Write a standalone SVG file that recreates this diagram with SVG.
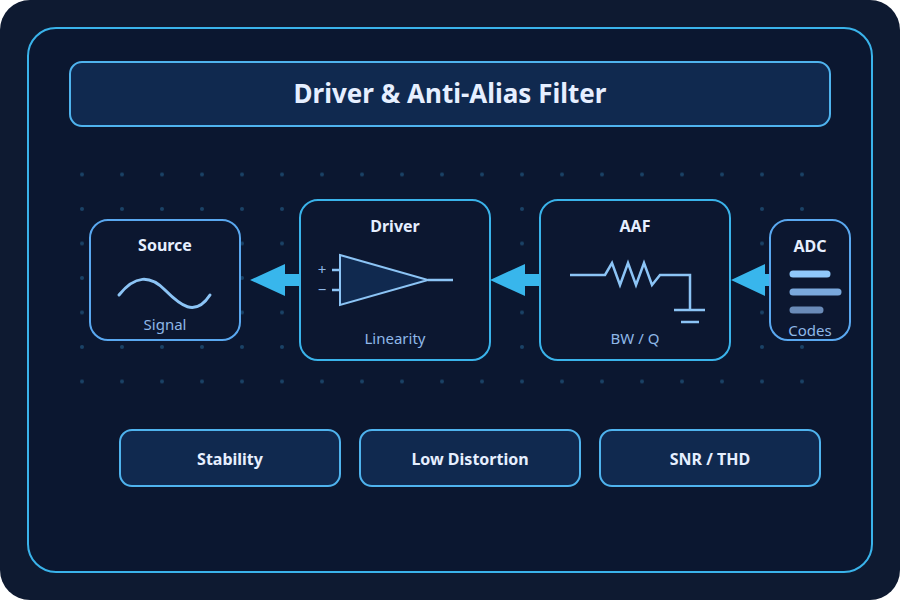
<svg xmlns="http://www.w3.org/2000/svg" width="900" height="600" viewBox="0 0 900 600">
<defs>
<style>
.t{font-family:"Noto Sans","Open Sans",sans-serif;font-weight:bold;fill:#e6efff;text-anchor:middle}
.s{font-family:"Noto Sans","Open Sans",sans-serif;fill:#8fb8e8;text-anchor:middle;font-size:15px}
.box{fill:#0c1730;stroke-width:2}
.pill{fill:#10294f;stroke:#4fb3ee;stroke-width:2}
.ln{fill:none;stroke:#8cc4f5;stroke-width:3;stroke-linecap:round}
.ar{fill:#38b6ec}
</style>
<pattern id="dots" x="0" y="0" width="40" height="34.5" patternUnits="userSpaceOnUse">
<circle cx="2" cy="2" r="2" fill="#1a4266"/>
</pattern>
</defs>
<rect width="900" height="600" rx="30" fill="#0e1a31"/>
<rect x="28" y="28" width="844" height="544" rx="28" fill="#0b1730" stroke="#3ab3ea" stroke-width="2"/>
<rect x="78" y="157" width="746" height="250" fill="url(#dots)"/>
<g id="title"><rect x="70" y="62" width="760" height="64" rx="12" class="pill"/><text x="450" y="103" class="t" font-size="26">Driver &amp; Anti-Alias Filter</text></g>
<g id="connectors">
<path class="ar" d="M250 280 L285 264 L285 274 L300 274 L300 286 L285 286 L285 296 Z"/>
<path class="ar" d="M490 280 L525 264 L525 274 L540 274 L540 286 L525 286 L525 296 Z"/>
<path class="ar" d="M731 280 L765 264 L765 274 L770 274 L770 286 L765 286 L765 296 Z"/>
</g>
<g id="source"><rect x="90" y="220" width="150" height="120" rx="18" class="box" stroke="#5aa8f0"/>
<text x="165" y="251" class="t" font-size="16">Source</text>
<path class="ln" d="M119 295 C135 275 150 275 165 290 C180 305 195 318 210 295"/>
<text x="165" y="330" class="s">Signal</text></g>
<g id="driver"><rect x="300" y="200" width="190" height="160" rx="18" class="box" stroke="#3ab3ea"/>
<text x="395" y="232" class="t" font-size="16">Driver</text>
<path d="M340 255 L428 280 L340 305 Z" fill="#10294f" stroke="#8cc4f5" stroke-width="2"/>
<path d="M428 280 H453 M332 270 H340 M332 290 H340" stroke="#8cc4f5" stroke-width="2.5"/>
<text x="322" y="275" class="s" font-size="11" fill="#c0d6f0">+</text>
<text x="322" y="295" class="s" font-size="11" fill="#c0d6f0">−</text>
<text x="395" y="344" class="s">Linearity</text></g>
<g id="aaf"><rect x="540" y="200" width="190" height="160" rx="18" class="box" stroke="#3ab3ea"/>
<text x="635" y="232" class="t" font-size="16">AAF</text>
<path d="M570 275 H605 L612 263 L620 285 L628 263 L636 285 L644 263 L652 285 L660 275 H690 V310 M674 310 H705 M681 322 H699" fill="none" stroke="#8cc4f5" stroke-width="2.5"/>
<text x="635" y="344" class="s">BW / Q</text></g>
<g id="adc"><rect x="770" y="220" width="80" height="120" rx="18" class="box" stroke="#5aa8f0"/>
<text x="810" y="252" class="t" font-size="16">ADC</text>
<path d="M793 274 H827" stroke="#90c8fa" stroke-width="7" stroke-linecap="round"/>
<path d="M793 292 H838" stroke="#7aa8dc" stroke-width="7" stroke-linecap="round"/>
<path d="M793 310 H820" stroke="#6a8bb8" stroke-width="7" stroke-linecap="round"/>
<text x="810" y="336" class="s">Codes</text></g>
<g id="stability"><rect x="120" y="430" width="220" height="56" rx="12" class="pill"/><text x="230" y="465" class="t" font-size="16">Stability</text></g>
<g id="lowdist"><rect x="360" y="430" width="220" height="56" rx="12" class="pill"/><text x="470" y="465" class="t" font-size="16">Low Distortion</text></g>
<g id="snr"><rect x="600" y="430" width="220" height="56" rx="12" class="pill"/><text x="710" y="465" class="t" font-size="16">SNR / THD</text></g>
</svg>
